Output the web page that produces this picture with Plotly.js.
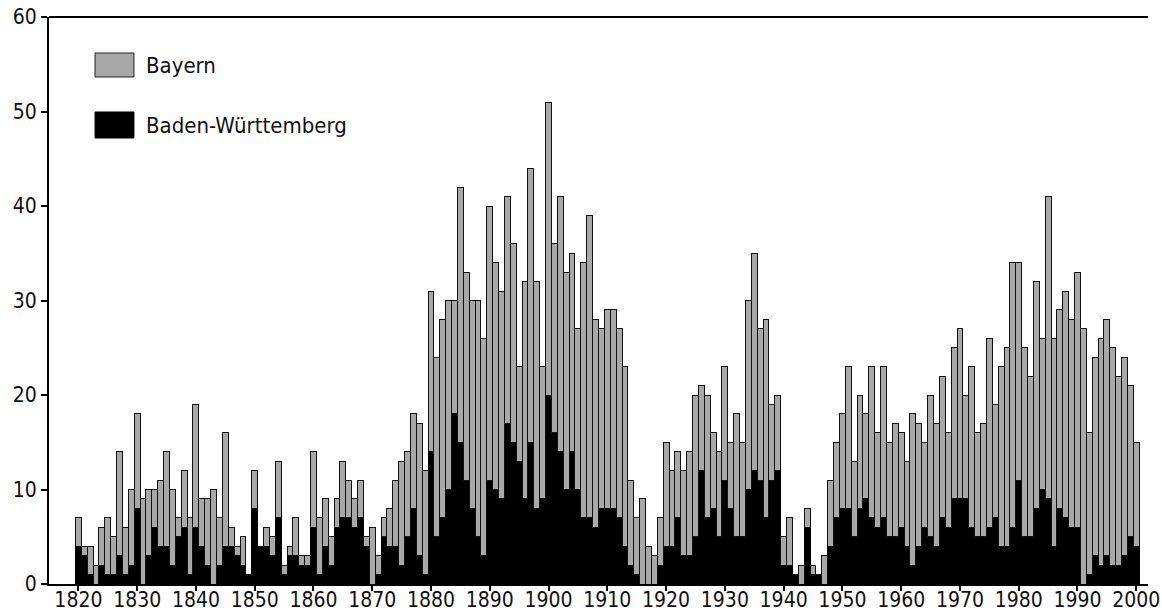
<!DOCTYPE html>
<html>
<head>
<meta charset="utf-8">
<script src="https://cdn.plot.ly/plotly-3.0.1.min.js"></script>
<style>
html,body{margin:0;padding:0;background:#fff;}
#chart{width:1162px;height:616px;}
</style>
</head>
<body>
<div id="chart"></div>
<script>
// Years 1820..2000 (categories)
var startYear = 1820, endYear = 2000;
var years = [];
for (var y = startYear; y <= endYear; y++) years.push(y);

// Baden-Württemberg (black, bottom of stack)
var badenWuerttemberg = [
  4,3,1,0,2,1,1,3,1,2,
  8,0,3,6,4,4,2,5,6,1,
  6,4,2,0,2,4,4,3,2,1,
  8,4,4,3,7,1,3,3,2,2,
  6,1,4,2,6,7,7,6,7,4,
  0,1,5,4,4,2,5,8,3,1,
  14,5,7,10,18,15,11,8,5,3,
  11,10,9,17,15,13,9,15,8,9,
  20,16,14,10,14,10,7,7,6,8,
  8,8,7,4,2,1,0,0,0,2,
  4,4,7,3,3,5,12,7,8,5,
  11,8,5,5,10,12,11,7,11,12,
  2,2,1,0,6,1,1,0,4,7,
  8,8,5,8,9,7,6,7,5,5,
  6,4,2,4,6,5,4,7,6,9,
  9,9,6,5,5,6,7,4,4,6,
  11,5,5,8,10,9,4,8,7,6,
  6,0,1,3,2,3,2,2,3,5,
  4
];

// Bayern (grey, stacked on top)
var bayern = [
  3,1,3,2,4,6,4,11,5,8,
  10,9,7,4,7,10,8,2,6,6,
  13,5,7,10,5,12,2,1,3,0,
  4,0,2,2,6,1,1,4,1,1,
  8,6,5,3,3,6,4,3,4,1,
  6,2,2,4,7,11,9,10,14,11,
  17,19,21,20,12,27,22,22,25,23,
  29,24,22,24,21,10,23,29,24,14,
  31,20,27,23,21,17,27,32,22,19,
  21,21,20,19,9,6,9,4,3,5,
  11,8,7,9,11,15,9,13,8,9,
  12,7,13,10,20,23,16,21,8,8,
  3,5,0,2,2,1,0,3,7,8,
  10,15,8,12,9,16,10,16,10,12,
  10,9,16,13,9,15,13,15,10,16,
  18,11,17,11,12,20,12,19,21,28,
  23,20,17,24,16,32,22,21,24,22,
  27,27,15,21,24,25,23,20,21,16,
  11
];

var xTicks = [1820,1830,1840,1850,1860,1870,1880,1890,1900,1910,1920,1930,1940,1950,1960,1970,1980,1990,2000];
var yTicks = [0,10,20,30,40,50,60];
var legendNames = ['Bayern', 'Baden-W\u00fcrttemberg'];
var greyColor = '#a8a8a8', blackColor = '#000000';

var FONT = '"DejaVu Sans Condensed", "DejaVu Sans", sans-serif';

var traces = [
  {
    type: 'bar', x: years, y: badenWuerttemberg, name: legendNames[1],
    marker: {color: blackColor, line: {color: '#000', width: 1}},
    width: 1, hoverinfo: 'x+y'
  },
  {
    type: 'bar', x: years, y: bayern, name: legendNames[0],
    marker: {color: greyColor, line: {color: '#111', width: 1}},
    width: 1, hoverinfo: 'x+y'
  }
];

var layout = {
  width: 1162, height: 616,
  margin: {l: 49, r: 14, t: 17, b: 32},
  paper_bgcolor: '#fff', plot_bgcolor: '#fff',
  barmode: 'stack', bargap: 0,
  showlegend: false,
  font: {family: FONT, size: 19, color: '#111'},
  xaxis: {
    range: [1815, 2002], tickmode: 'array', tickvals: xTicks,
    ticks: 'outside', ticklen: 5, tickwidth: 2, tickcolor: '#000',
    ticklabelstandoff: -9,
    showline: true, linecolor: '#000', linewidth: 2, mirror: false,
    showgrid: false, zeroline: false,
    tickfont: {family: FONT, size: 21, color: '#111'}
  },
  yaxis: {
    range: [0, 60], tickmode: 'array', tickvals: yTicks,
    ticks: 'outside', ticklen: 6, tickwidth: 2, tickcolor: '#000',
    showline: true, linecolor: '#000', linewidth: 2,
    showgrid: false, zeroline: false,
    tickfont: {family: FONT, size: 21, color: '#111'}
  },
  shapes: [
    {type: 'line', xref: 'paper', yref: 'paper', x0: 0, x1: 1, y0: 1, y1: 1, line: {color: '#000', width: 2}},
    {type: 'rect', xref: 'paper', yref: 'paper', x0: 0.0419, x1: 0.0773, y0: 0.8942, y1: 0.9365,
     fillcolor: greyColor, line: {color: '#222', width: 1}},
    {type: 'rect', xref: 'paper', yref: 'paper', x0: 0.0419, x1: 0.0773, y0: 0.7866, y1: 0.8325,
     fillcolor: blackColor, line: {color: '#000', width: 1}}
  ],
  annotations: [
    {xref: 'paper', yref: 'paper', x: 0.0864, y: 0.9153, xanchor: 'left', yanchor: 'middle',
     text: legendNames[0], showarrow: false, font: {family: FONT, size: 22, color: '#111'}},
    {xref: 'paper', yref: 'paper', x: 0.0864, y: 0.8095, xanchor: 'left', yanchor: 'middle',
     text: legendNames[1], showarrow: false, font: {family: FONT, size: 22, color: '#111'}}
  ]
};

Plotly.newPlot('chart', traces, layout, {displayModeBar: false, staticPlot: true});
</script>
</body>
</html>
